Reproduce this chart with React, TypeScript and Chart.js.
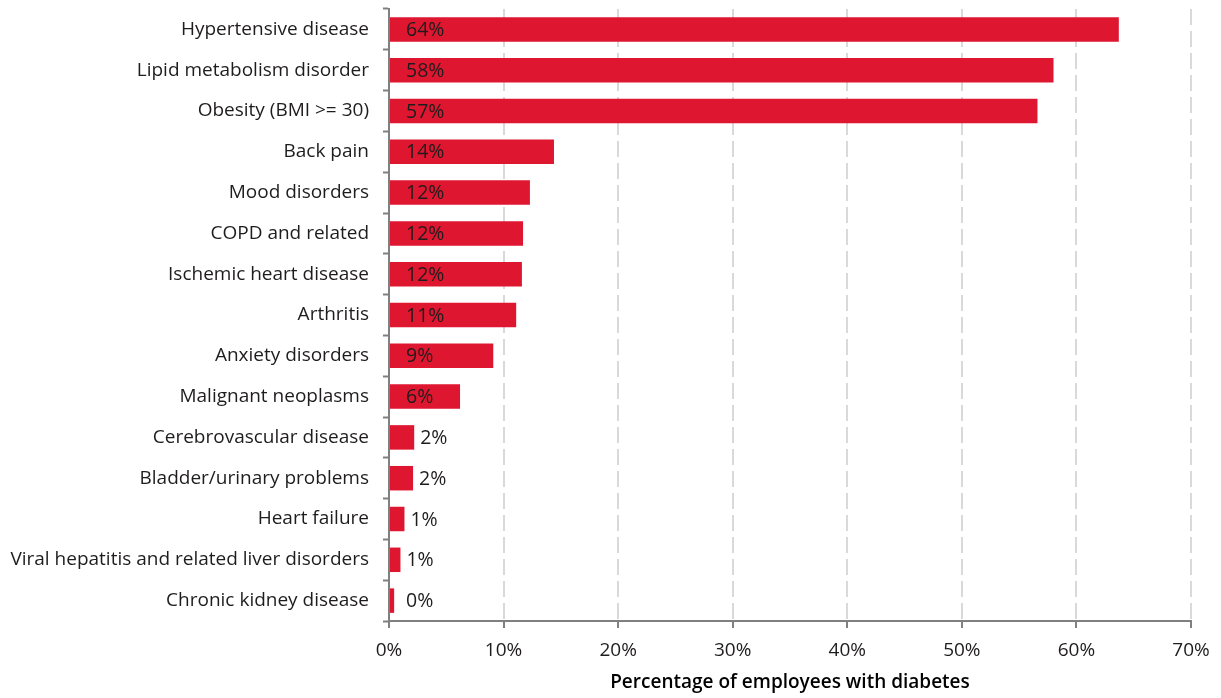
import React, { useEffect, useRef } from "react";
import { Chart, registerables } from "chart.js";

Chart.register(...registerables);

const categories = [
  "Hypertensive disease",
  "Lipid metabolism disorder",
  "Obesity (BMI >= 30)",
  "Back pain",
  "Mood disorders",
  "COPD and related",
  "Ischemic heart disease",
  "Arthritis",
  "Anxiety disorders",
  "Malignant neoplasms",
  "Cerebrovascular disease",
  "Bladder/urinary problems",
  "Heart failure",
  "Viral hepatitis and related liver disorders",
  "Chronic kidney disease",
];

// Share of employees with diabetes who also have each condition (%)
const shares = [63.7, 58.0, 56.6, 14.4, 12.3, 11.7, 11.6, 11.1, 9.1, 6.2, 2.2, 2.1, 1.35, 1.0, 0.45];

const xTicks = [0, 10, 20, 30, 40, 50, 60, 70];

const FONT = "'Open Sans', 'DejaVu Sans', sans-serif";
const TEXT = "#1f1c1d";
const RED = "#df1630";

const valueLabels = {
  id: "valueLabels",
  afterDatasetsDraw(chart: any) {
    const ctx = chart.ctx;
    const meta = chart.getDatasetMeta(0);
    ctx.save();
    ctx.font = `19.5px ${FONT}`;
    ctx.fillStyle = TEXT;
    ctx.textBaseline = "middle";
    ctx.textAlign = "left";
    meta.data.forEach((bar: any, i: number) => {
      const v = shares[i];
      const text = `${Math.round(v)}%`;
      const x = v >= 5 ? bar.base + 16 : Math.max(bar.x + 6, bar.base + 16);
      ctx.fillText(text, x, bar.y + 1);
    });
    ctx.restore();
  },
};

export default function App() {
  const canvasRef = useRef<HTMLCanvasElement | null>(null);

  useEffect(() => {
    if (!canvasRef.current) return;
    const chart = new Chart(canvasRef.current, {
      type: "bar",
      data: {
        labels: categories,
        datasets: [
          {
            data: shares,
            backgroundColor: RED,
            borderWidth: 0,
            barPercentage: 0.6,
            categoryPercentage: 1,
          },
        ],
      },
      options: {
        indexAxis: "y",
        animation: false,
        responsive: true,
        maintainAspectRatio: false,
        layout: { padding: { top: 9, right: 30, bottom: 0, left: 0 } },
        plugins: {
          legend: { display: false },
          tooltip: { enabled: false },
        },
        scales: {
          x: {
            min: 0,
            max: 70,
            afterBuildTicks: (scale: any) => {
              scale.ticks = xTicks.map((v) => ({ value: v }));
            },
            afterFit: (scale: any) => {
              scale.height = 77;
            },
            ticks: {
              callback: (v: any) => `${v}%`,
              color: TEXT,
              font: { family: FONT, size: 19 },
              padding: 11,
              maxRotation: 0,
            },
            grid: {
              color: "#d9d9d9",
              lineWidth: 2,
              drawTicks: true,
              tickLength: 7,
              tickColor: "#808080",
              tickWidth: 2,
            },
            border: { display: true, color: "#808080", width: 2, dash: [16, 6] },
            title: {
              display: true,
              text: "Percentage of employees with diabetes",
              color: "#000",
              font: { family: FONT, size: 19, weight: "600" },
              padding: { top: 0, bottom: 4 },
            },
          },
          y: {
            afterFit: (scale: any) => {
              scale.width = 389;
              scale.paddingTop = 0;
              scale.paddingBottom = 0;
            },
            ticks: {
              color: TEXT,
              font: { family: FONT, size: 19 },
              padding: 14,
              autoSkip: false,
            },
            grid: {
              offset: true,
              drawOnChartArea: false,
              drawTicks: true,
              tickLength: 6,
              tickColor: "#808080",
              tickWidth: 2,
            },
            border: { display: true, color: "#808080", width: 2 },
          },
        },
      },
      plugins: [valueLabels],
    });
    return () => chart.destroy();
  }, []);

  return (
    <div style={{ position: "fixed", left: 0, top: 0, width: 1221, height: 698, background: "#fff" }}>
      <canvas ref={canvasRef} />
    </div>
  );
}
